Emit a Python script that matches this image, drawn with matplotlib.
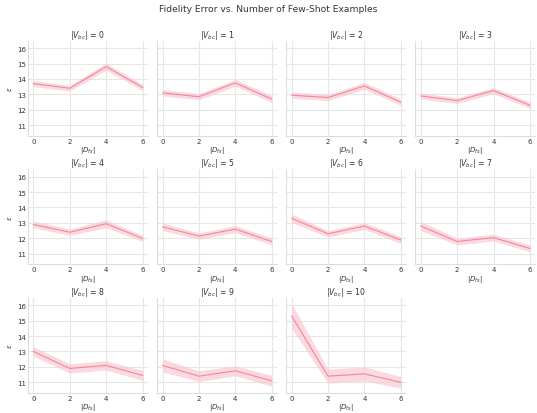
import matplotlib
matplotlib.use("Agg")
import matplotlib.pyplot as plt
import numpy as np

# Few-shot example counts |D_fs|
shots = [0, 2, 4, 6]
# |V_bc| values, one panel each
vbc_sizes = list(range(11))

# Mean fidelity error per panel at each shot count
means = [
    [13.70, 13.40, 14.80, 13.45],
    [13.10, 12.85, 13.75, 12.70],
    [12.95, 12.80, 13.55, 12.50],
    [12.90, 12.60, 13.25, 12.30],
    [12.90, 12.40, 12.95, 12.00],
    [12.75, 12.15, 12.60, 11.80],
    [13.30, 12.30, 12.80, 11.90],
    [12.80, 11.80, 12.05, 11.35],
    [13.00, 11.90, 12.10, 11.45],
    [12.10, 11.40, 11.75, 11.10],
    [15.30, 11.40, 11.55, 11.00],
]
# Half-width of the confidence band
errors = [
    [0.20, 0.18, 0.22, 0.20],
    [0.20, 0.20, 0.22, 0.22],
    [0.20, 0.20, 0.22, 0.20],
    [0.20, 0.18, 0.20, 0.20],
    [0.22, 0.20, 0.25, 0.20],
    [0.25, 0.20, 0.22, 0.22],
    [0.28, 0.20, 0.22, 0.22],
    [0.30, 0.22, 0.22, 0.22],
    [0.30, 0.30, 0.30, 0.32],
    [0.42, 0.35, 0.32, 0.35],
    [0.80, 0.45, 0.45, 0.38],
]

line_color = "#f2879a"
band_color = "#f9c9d3"
grid_color = "#e6e6e6"
text_color = "#333333"

fig, axes = plt.subplots(3, 4, figsize=(5.37, 4.14), dpi=100)
fig.subplots_adjust(left=0.052, right=0.997, top=0.899, bottom=0.049,
                    hspace=0.355, wspace=0.075)

flat = axes.ravel()
for i, ax in enumerate(flat):
    if i >= len(vbc_sizes):
        ax.remove()
        continue
    m = np.array(means[i])
    e = np.array(errors[i])
    ax.fill_between(shots, m - e, m + e, color=band_color, alpha=0.7, lw=0)
    ax.plot(shots, m, color=line_color, lw=0.8)
    ax.set_xlim(-0.3, 6.3)
    ax.set_ylim(10.33, 16.47)
    ax.set_xticks(shots)
    ax.set_yticks([11, 12, 13, 14, 15, 16])
    ax.grid(True, color=grid_color, lw=0.8)
    ax.set_axisbelow(True)
    for s in ["top", "right"]:
        ax.spines[s].set_visible(False)
    for s in ["left", "bottom"]:
        ax.spines[s].set_color("#dddddd")
        ax.spines[s].set_linewidth(0.8)
    ax.tick_params(length=0, labelsize=5, colors=text_color, pad=1.5)
    ax.set_title(r"$|V_{bc}|$ = %d" % vbc_sizes[i], fontsize=5.6,
                 color=text_color, pad=1.5)
    ax.set_xlabel(r"$|D_{fs}|$", fontsize=5, color=text_color, labelpad=0.3)
    if i % 4 == 0:
        ax.set_ylabel(r"$\epsilon$", fontsize=5, color=text_color, labelpad=2)
    else:
        ax.tick_params(labelleft=False)

fig.suptitle("Fidelity Error vs. Number of Few-Shot Examples", fontsize=6.6,
             color=text_color, y=0.987)

fig.savefig("out.png", dpi=100, facecolor="white")
